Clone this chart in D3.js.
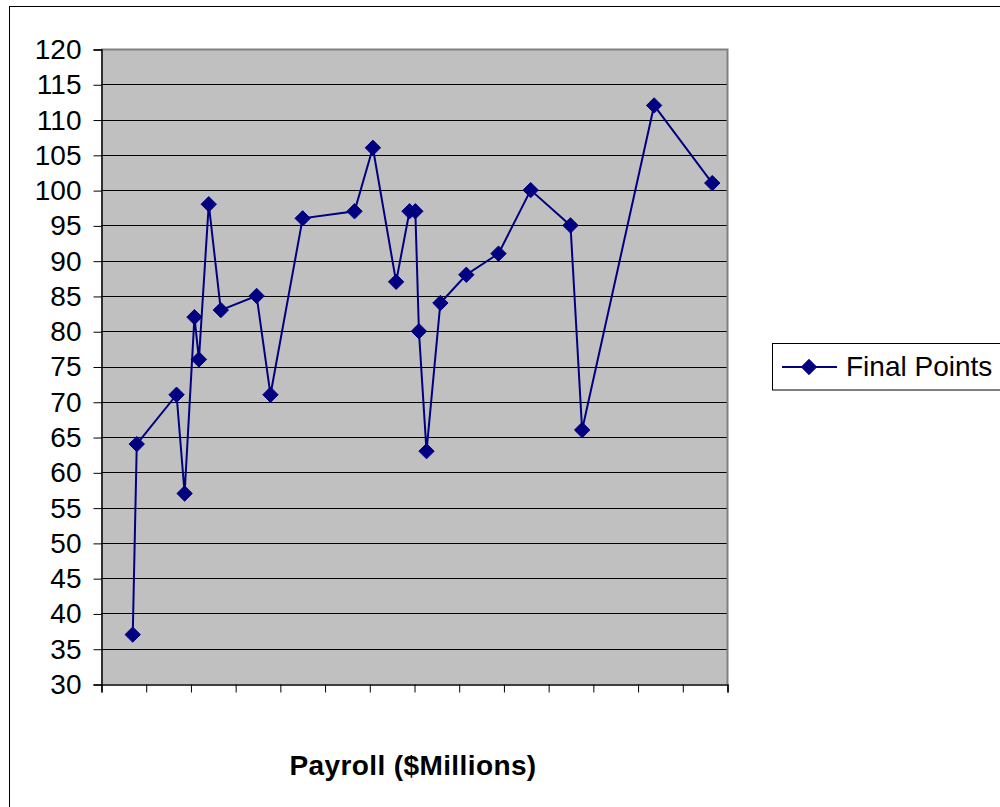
<!DOCTYPE html>
<html>
<head>
<meta charset="utf-8">
<script src="https://cdn.jsdelivr.net/npm/d3@7"></script>
<style>
  html, body { margin: 0; padding: 0; background: #fff; }
  svg { display: block; font-family: "Liberation Sans", Arial, sans-serif; }
</style>
</head>
<body>
<svg id="chart" width="1000" height="807"></svg>
<script>
const payroll = [7.1, 8.0, 16.9, 18.7, 20.9, 21.9, 24.1, 26.8, 34.8, 37.9, 45.1, 56.7, 60.8, 66.0, 69.0, 70.3, 71.1, 72.8, 75.9, 81.7, 88.9, 96.1, 105.0, 107.6, 123.7, 136.7];
const finalPoints = [37, 64, 71, 57, 82, 76, 98, 83, 85, 71, 96, 97, 106, 87, 97, 97, 80, 63, 84, 88, 91, 100, 95, 66, 112, 101];
const yTicks = [30, 35, 40, 45, 50, 55, 60, 65, 70, 75, 80, 85, 90, 95, 100, 105, 110, 115, 120];
const xTicks = [0, 10, 20, 30, 40, 50, 60, 70, 80, 90, 100, 110, 120, 130, 140];
const seriesName = "Final Points";
const xTitle = "Payroll ($Millions)";

const svg = d3.select("#chart");
const plot = { left: 101, right: 727, top: 49, bottom: 684 };

const x = d3.scaleLinear().domain([0, 140]).range([plot.left, plot.right]);
const y = d3.scaleLinear().domain([30, 120]).range([plot.bottom, plot.top]);

// outer chart border
svg.append("rect").attr("x", 9.5).attr("y", 6.5).attr("width", 1000).attr("height", 820)
  .attr("fill", "#fff").attr("stroke", "#000").attr("stroke-width", 1);

// plot background
svg.append("rect").attr("x", plot.left).attr("y", plot.top)
  .attr("width", plot.right - plot.left).attr("height", plot.bottom - plot.top)
  .attr("fill", "#c0c0c0");

// gridlines
svg.append("g").selectAll("line").data(yTicks.filter(d => d > 30)).join("line")
  .attr("x1", plot.left).attr("x2", plot.right)
  .attr("y1", d => Math.round(y(d)) + 0.5).attr("y2", d => Math.round(y(d)) + 0.5)
  .attr("stroke", "#000").attr("stroke-width", 1);

// plot border (top/right gray)
svg.append("path")
  .attr("d", `M${plot.left},${plot.top + 0.5}H${plot.right + 0.5}V${plot.bottom}`)
  .attr("fill", "none").attr("stroke", "#808080").attr("stroke-width", 2);

// y axis
const yAxis = d3.axisLeft(y).tickValues(yTicks).tickSize(8).tickPadding(12).tickFormat(d3.format("d"));
const gy = svg.append("g").attr("transform", `translate(${plot.left + 0.5},0.5)`).call(yAxis);
gy.select(".domain").attr("stroke", "#000").attr("stroke-width", 1.5);
gy.selectAll(".tick line").attr("stroke", "#000");
gy.selectAll("text").attr("font-size", 28).attr("fill", "#000")
  .attr("font-family", "'Liberation Sans', Arial, sans-serif");

// x axis (ticks only, no labels)
const xAxis = d3.axisBottom(x).tickValues(xTicks).tickSize(8).tickFormat("");
const gx = svg.append("g").attr("transform", `translate(0.5,${plot.bottom + 0.5})`).call(xAxis);
gx.select(".domain").attr("stroke", "#000").attr("stroke-width", 1.5);
gx.selectAll(".tick line").attr("stroke", "#000");

// series line
const line = d3.line().x((d, i) => x(payroll[i])).y(d => y(d));
svg.append("path").datum(finalPoints)
  .attr("d", line).attr("fill", "none").attr("stroke", "#000080").attr("stroke-width", 2);

// diamond markers
const diamond = d3.symbol().type(d3.symbolDiamond2).size(150);
svg.append("g").selectAll("path").data(finalPoints).join("path")
  .attr("d", diamond)
  .attr("transform", (d, i) => `translate(${x(payroll[i])},${y(d)})`)
  .attr("fill", "#000080").attr("stroke", "#000080").attr("stroke-width", 1);

// x axis title
svg.append("text").attr("x", 413).attr("y", 775).attr("text-anchor", "middle")
  .attr("font-size", 28).attr("font-weight", "bold").attr("fill", "#000")
  .attr("letter-spacing", 0.4)
  .text(xTitle);

// legend
const lg = svg.append("g");
lg.append("rect").attr("x", 772.5).attr("y", 343.5).attr("width", 240).attr("height", 46.5)
  .attr("fill", "#fff").attr("stroke", "#000").attr("stroke-width", 1);
lg.append("line").attr("x1", 782).attr("x2", 837).attr("y1", 367).attr("y2", 367)
  .attr("stroke", "#000080").attr("stroke-width", 2);
lg.append("path").attr("d", diamond).attr("transform", "translate(809,367)")
  .attr("fill", "#000080").attr("stroke", "#000080");
lg.append("text").attr("x", 846).attr("y", 376).attr("font-size", 28).attr("fill", "#000")
  .text(seriesName);
</script>
</body>
</html>
